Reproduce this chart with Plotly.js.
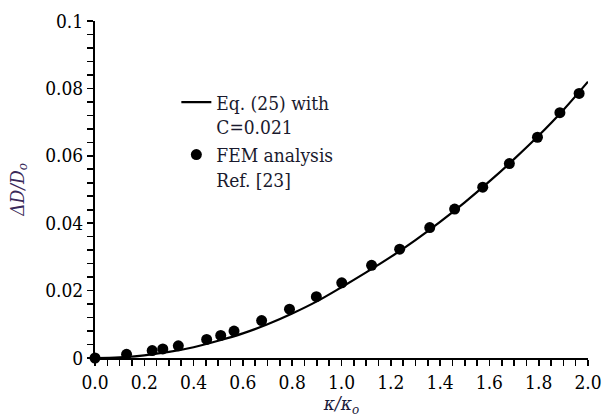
<!DOCTYPE html>
<html>
<head>
<meta charset="utf-8">
<script src="https://cdn.plot.ly/plotly-3.0.1.min.js"></script>
<style>html,body{margin:0;padding:0;background:#fff;}#chart{width:602px;height:417px;}</style>
</head>
<body>
<div id="chart"></div>
<script>
// Eq. (25) curve
var eqX = [0, 0.1, 0.2, 0.3, 0.4, 0.5, 0.6, 0.7, 0.8, 0.9, 1.0, 1.1, 1.2, 1.3, 1.4, 1.5, 1.6, 1.7, 1.8, 1.9, 2.0];
var eqY = [0, 0.0002, 0.0008, 0.0018, 0.0032, 0.0051, 0.0073, 0.0100, 0.0132, 0.0168, 0.0210, 0.0254, 0.0300, 0.0350, 0.0404, 0.0462, 0.0524, 0.0590, 0.0660, 0.0736, 0.0820];
// FEM analysis, Ref. [23]
var femX = [0, 0.128, 0.232, 0.275, 0.338, 0.453, 0.510, 0.564, 0.676, 0.789, 0.898, 1.001, 1.122, 1.236, 1.358, 1.459, 1.573, 1.681, 1.795, 1.886, 1.964];
var femY = [0, 0.0011, 0.0022, 0.0027, 0.0036, 0.0055, 0.0067, 0.0080, 0.0111, 0.0145, 0.0182, 0.0223, 0.0275, 0.0323, 0.0387, 0.0442, 0.0507, 0.0577, 0.0655, 0.0728, 0.0785];
var xMajorVals = [0, 0.2, 0.4, 0.6, 0.8, 1.0, 1.2, 1.4, 1.6, 1.8, 2.0];
var xMajorText = ['0.0', '0.2', '0.4', '0.6', '0.8', '1.0', '1.2', '1.4', '1.6', '1.8', '2.0'];
var yMajorVals = [0, 0.02, 0.04, 0.06, 0.08, 0.1];
var yMajorText = ['0', '0.02', '0.04', '0.06', '0.08', '0.1'];
var xMinorPerMajor = 4;   // ticks every 0.05
var yMinorPerMajor = 5;   // ticks every 0.004
var xRange = [0, 2.0];
var yRange = [0, 0.1];
var eqName = 'Eq. (25) with<br>C=0.021';
var femName = 'FEM analysis<br>Ref. [23]';

// full tick lists (major + minor), labels only on the major ones
function tickLists(vals, text, n) {
  var tv = [], tt = [];
  for (var i = 0; i < vals.length; i++) {
    tv.push(vals[i]); tt.push(text[i]);
    if (i < vals.length - 1) {
      var step = (vals[i + 1] - vals[i]) / n;
      for (var k = 1; k < n; k++) { tv.push(vals[i] + k * step); tt.push(''); }
    }
  }
  return {tv: tv, tt: tt};
}
var xt = tickLists(xMajorVals, xMajorText, xMinorPerMajor);
var yt = tickLists(yMajorVals, yMajorText, yMinorPerMajor);

var font = "DejaVu Serif Condensed, DejaVu Serif";
var traces = [
  {x: eqX, y: eqY, mode: 'lines', name: eqName, line: {color: '#000', width: 2.2, shape: 'spline'}, cliponaxis: false},
  {x: femX, y: femY, mode: 'markers', name: femName, marker: {color: '#000', size: 11}, cliponaxis: false}
];
var layout = {
  width: 602, height: 417,
  margin: {l: 95, r: 14, t: 21, b: 59},
  paper_bgcolor: '#fff', plot_bgcolor: '#fff',
  font: {family: font, size: 18, color: '#000'},
  showlegend: true,
  legend: {x: 0.165, y: 0.815, xanchor: 'left', yanchor: 'top', bgcolor: 'rgba(0,0,0,0)',
           font: {family: font, size: 19, color: '#1a1a2e'}, valign: 'top', tracegroupgap: 0},
  xaxis: {range: xRange, tickmode: 'array', tickvals: xt.tv, ticktext: xt.tt, showgrid: false, zeroline: false,
          showline: true, linecolor: '#000', linewidth: 2, ticks: 'outside', ticklen: 6, tickwidth: 1.6, tickcolor: '#000',
          tickfont: {family: font, size: 19, color: '#000'},
          title: {text: '<i>κ/κ<sub>o</sub></i>', font: {family: font, size: 19, color: '#1a1a3a'}, standoff: 12}},
  yaxis: {range: yRange, tickmode: 'array', tickvals: yt.tv, ticktext: yt.tt, showgrid: false, zeroline: false,
          showline: true, linecolor: '#000', linewidth: 2, ticks: 'outside', ticklen: 6, tickwidth: 1.6, tickcolor: '#000',
          tickfont: {family: font, size: 19, color: '#000'},
          title: {text: '<i>ΔD/D<sub>o</sub></i>', font: {family: font, size: 19, color: '#3a2a5a'}, standoff: 16}}
};
Plotly.newPlot('chart', traces, layout, {displayModeBar: false, staticPlot: true});
</script>
</body>
</html>
